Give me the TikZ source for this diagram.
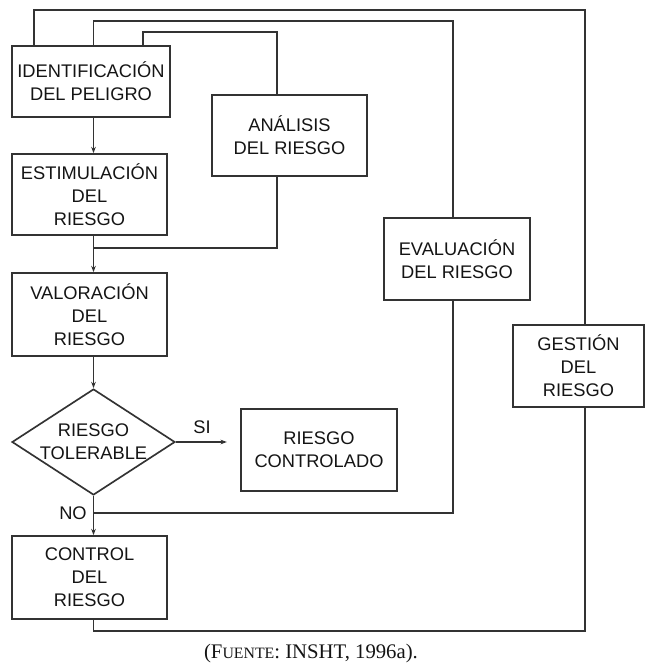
\documentclass[tikz,border=0pt]{standalone}
\usepackage{fontspec}
\setmainfont{Liberation Serif}
\setsansfont{Liberation Sans}
\usepackage{tikz}
\usetikzlibrary{shapes.geometric, arrows.meta, positioning}
\colorlet{linegray}{black!80}
\tikzstyle{riskbox} = [
    rectangle, draw=linegray, line width=0.5mm, align=center,
    text=black!92, font=\sffamily\fontsize{15.6}{19.6}\selectfont,
    inner sep=0pt
]
\tikzstyle{riskdecision} = [
    diamond, draw=linegray, line width=0.5mm, align=center, aspect=1.54,
    text=black!92, font=\sffamily\fontsize{15.6}{19.6}\selectfont,
    inner sep=0pt
]
\tikzstyle{link} = [draw=linegray, line width=0.5mm]
\tikzstyle{arrow} = [link, -{Stealth[length=1.9mm, width=1.4mm]}]
\tikzstyle{flowlabel} = [text=black!92, font=\sffamily\fontsize{15.6}{19.6}\selectfont]

\begin{document}
\begin{tikzpicture}[x=0.3mm, y=-0.3mm]
    \useasboundingbox (0,0) rectangle (645,664);

    % main column
    \node [riskbox, minimum width=47.4mm, minimum height=21.3mm] (ident) at (91,81.5) {IDENTIFICACIÓN\\DEL PELIGRO};
    \node [riskbox, minimum width=46.5mm, minimum height=24.3mm] (estim) at (89.5,194.5) {ESTIMULACIÓN\\DEL\\RIESGO};
    \node [riskbox, minimum width=46.5mm, minimum height=24.9mm] (valor) at (89.5,314.5) {VALORACIÓN\\DEL\\RIESGO};
    \node [riskdecision, minimum width=48.9mm, minimum height=31.8mm] (tolerable) at (93.5,442) {RIESGO\\TOLERABLE};
    \node [riskbox, minimum width=46.5mm, minimum height=24.9mm] (control) at (89.5,577.5) {CONTROL\\DEL\\RIESGO};

    % side boxes
    \node [riskbox, minimum width=46.5mm, minimum height=24.3mm] (analisis) at (289.5,135.5) {ANÁLISIS\\DEL RIESGO};
    \node [riskbox, minimum width=46.8mm, minimum height=24.6mm] (controlado) at (319,450) {RIESGO\\CONTROLADO};
    \node [riskbox, minimum width=43.8mm, minimum height=24.6mm] (evaluacion) at (457,259) {EVALUACIÓN\\DEL RIESGO};
    \node [riskbox, minimum width=39.3mm, minimum height=24.6mm] (gestion) at (578.5,366) {GESTIÓN\\DEL\\RIESGO};

    % corners of the loops
    \coordinate (spine) at (93.5,0);
    \coordinate (g1) at (34,10);
    \coordinate (g2) at (585,10);
    \coordinate (g3) at (585,631);
    \coordinate (e1) at (93.5,21);
    \coordinate (e2) at (453,21);
    \coordinate (e3) at (453,513);
    \coordinate (a1) at (143,32);
    \coordinate (a2) at (277,32);
    \coordinate (a3) at (277,248);

    \path [arrow] (ident.south -| spine) -- (estim.north -| spine);
    \path [arrow] (estim.south -| spine) -- (valor.north -| spine);
    \path [arrow] (valor.south -| spine) -- (tolerable.north);
    \path [arrow] (tolerable.south) -- (control.north -| spine);
    \path [arrow, shorten >=4mm] (tolerable.east) -- (controlado.west |- tolerable.east);

    % gestion loop
    \path [link] (ident.north -| g1) -- (g1) -- (g2) -- (gestion.north -| g2);
    \path [link] (gestion.south -| g3) -- (g3) -| (control.south -| spine);
    % evaluacion loop
    \path [link] (ident.north -| e1) -- (e1) -- (e2) -- (evaluacion.north -| e2);
    \path [link] (evaluacion.south -| e3) -- (e3) -- (e3 -| spine);
    % analisis loop
    \path [link] (ident.north -| a1) -- (a1) -- (a2) -- (analisis.north -| a2);
    \path [link] (analisis.south -| a3) -- (a3) -- (a3 -| spine);

    \node [flowlabel] (si) at (202,427) {SI};
    \node [flowlabel] (no) at (73,513) {NO};

    \node [text=black!92, font=\fontsize{17.7}{19}\selectfont] (fuente) at (311,654)
        {(F{\fontsize{13.5}{15}\selectfont UENTE}: INSHT, 1996a).};
\end{tikzpicture}
\end{document}
